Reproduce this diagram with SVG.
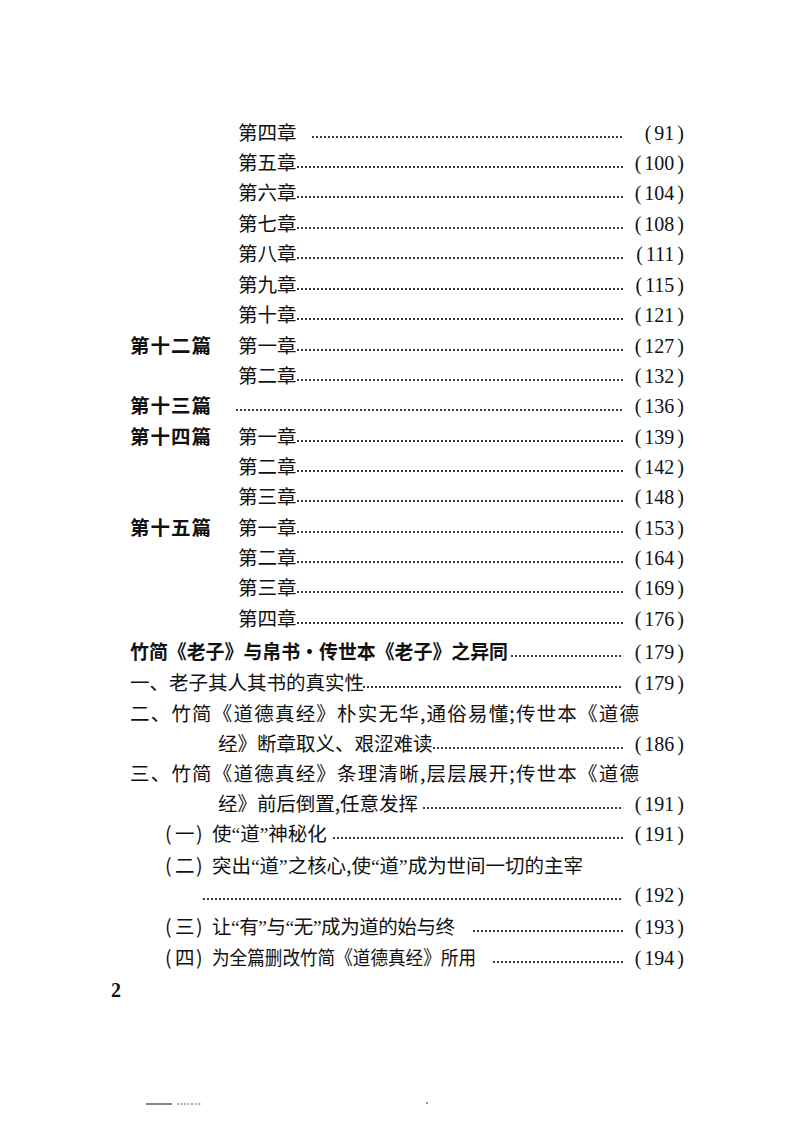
<svg xmlns="http://www.w3.org/2000/svg" width="793" height="1122" viewBox="0 0 793 1122">
<style>
.t{font-family:"Noto Sans CJK SC","Noto Sans CJK JP",sans-serif;font-size:19.5px;fill:#111}
.b{font-weight:bold}
.q{font-family:"Liberation Serif",serif}
.pg{font-family:"Liberation Serif",serif;font-size:20px;fill:#111;text-anchor:end}
.pn{font-family:"Liberation Serif",serif;font-size:20px;font-weight:bold;fill:#111}
.dots line{stroke:#111;stroke-width:2.2;stroke-linecap:round;stroke-dasharray:0 4}
</style>
<rect width="793" height="1122" fill="#fff"/>
<g id="leaders" class="dots">
<line x1="313" y1="137" x2="624" y2="137"/>
<line x1="298" y1="167" x2="624" y2="167"/>
<line x1="298" y1="197" x2="624" y2="197"/>
<line x1="298" y1="228" x2="624" y2="228"/>
<line x1="298" y1="258" x2="624" y2="258"/>
<line x1="298" y1="289" x2="624" y2="289"/>
<line x1="298" y1="319" x2="624" y2="319"/>
<line x1="298" y1="350" x2="624" y2="350"/>
<line x1="298" y1="380" x2="624" y2="380"/>
<line x1="237" y1="410" x2="624" y2="410"/>
<line x1="298" y1="441" x2="624" y2="441"/>
<line x1="298" y1="471" x2="624" y2="471"/>
<line x1="298" y1="501" x2="624" y2="501"/>
<line x1="298" y1="532" x2="624" y2="532"/>
<line x1="298" y1="562" x2="624" y2="562"/>
<line x1="298" y1="592" x2="624" y2="592"/>
<line x1="298" y1="623" x2="624" y2="623"/>
<line x1="512" y1="656" x2="624" y2="656"/>
<line x1="364" y1="687" x2="624" y2="687"/>
<line x1="434" y1="748" x2="624" y2="748"/>
<line x1="424" y1="808" x2="624" y2="808"/>
<line x1="334" y1="838" x2="624" y2="838"/>
<line x1="204" y1="899" x2="624" y2="899"/>
<line x1="474" y1="931" x2="624" y2="931"/>
<line x1="494" y1="962" x2="624" y2="962"/>
</g>
<g id="r1"><text class="t" x="238" y="140">第四章</text><text class="pg" x="684" y="140">(<tspan dx="3">91</tspan><tspan dx="3">)</tspan></text></g>
<g id="r2"><text class="t" x="238" y="170">第五章</text><text class="pg" x="684" y="170">(<tspan dx="3">100</tspan><tspan dx="3">)</tspan></text></g>
<g id="r3"><text class="t" x="238" y="200">第六章</text><text class="pg" x="684" y="200">(<tspan dx="3">104</tspan><tspan dx="3">)</tspan></text></g>
<g id="r4"><text class="t" x="238" y="231">第七章</text><text class="pg" x="684" y="231">(<tspan dx="3">108</tspan><tspan dx="3">)</tspan></text></g>
<g id="r5"><text class="t" x="238" y="261">第八章</text><text class="pg" x="684" y="261">(<tspan dx="3">111</tspan><tspan dx="3">)</tspan></text></g>
<g id="r6"><text class="t" x="238" y="292">第九章</text><text class="pg" x="684" y="292">(<tspan dx="3">115</tspan><tspan dx="3">)</tspan></text></g>
<g id="r7"><text class="t" x="238" y="322">第十章</text><text class="pg" x="684" y="322">(<tspan dx="3">121</tspan><tspan dx="3">)</tspan></text></g>
<g id="r8"><text class="t b" x="130" y="353" letter-spacing="1">第十二篇</text><text class="t" x="238" y="353">第一章</text><text class="pg" x="684" y="353">(<tspan dx="3">127</tspan><tspan dx="3">)</tspan></text></g>
<g id="r9"><text class="t" x="238" y="383">第二章</text><text class="pg" x="684" y="383">(<tspan dx="3">132</tspan><tspan dx="3">)</tspan></text></g>
<g id="r10"><text class="t b" x="130" y="413" letter-spacing="1">第十三篇</text><text class="pg" x="684" y="413">(<tspan dx="3">136</tspan><tspan dx="3">)</tspan></text></g>
<g id="r11"><text class="t b" x="130" y="444" letter-spacing="1">第十四篇</text><text class="t" x="238" y="444">第一章</text><text class="pg" x="684" y="444">(<tspan dx="3">139</tspan><tspan dx="3">)</tspan></text></g>
<g id="r12"><text class="t" x="238" y="474">第二章</text><text class="pg" x="684" y="474">(<tspan dx="3">142</tspan><tspan dx="3">)</tspan></text></g>
<g id="r13"><text class="t" x="238" y="504">第三章</text><text class="pg" x="684" y="504">(<tspan dx="3">148</tspan><tspan dx="3">)</tspan></text></g>
<g id="r14"><text class="t b" x="130" y="535" letter-spacing="1">第十五篇</text><text class="t" x="238" y="535">第一章</text><text class="pg" x="684" y="535">(<tspan dx="3">153</tspan><tspan dx="3">)</tspan></text></g>
<g id="r15"><text class="t" x="238" y="565">第二章</text><text class="pg" x="684" y="565">(<tspan dx="3">164</tspan><tspan dx="3">)</tspan></text></g>
<g id="r16"><text class="t" x="238" y="595">第三章</text><text class="pg" x="684" y="595">(<tspan dx="3">169</tspan><tspan dx="3">)</tspan></text></g>
<g id="r17"><text class="t" x="238" y="626">第四章</text><text class="pg" x="684" y="626">(<tspan dx="3">176</tspan><tspan dx="3">)</tspan></text></g>
<g id="r18"><text class="t b" x="130" y="659" textLength="378" lengthAdjust="spacingAndGlyphs">竹简《老子》与帛书·传世本《老子》之异同</text><text class="pg" x="684" y="659">(<tspan dx="3">179</tspan><tspan dx="3">)</tspan></text></g>
<g id="r19"><text class="t" x="130" y="690">一、老子其人其书的真实性</text><text class="pg" x="684" y="690">(<tspan dx="3">179</tspan><tspan dx="3">)</tspan></text></g>
<g id="r20"><text class="t" x="130" y="721" textLength="509" lengthAdjust="spacing">二、竹简《道德真经》朴实无华,通俗易懂;传世本《道德</text><text class="t" x="218" y="751">经》断章取义、艰涩难读</text><text class="pg" x="684" y="751">(<tspan dx="3">186</tspan><tspan dx="3">)</tspan></text></g>
<g id="r22"><text class="t" x="130" y="781" textLength="509" lengthAdjust="spacing">三、竹简《道德真经》条理清晰,层层展开;传世本《道德</text><text class="t" x="218" y="811" textLength="200" lengthAdjust="spacing">经》前后倒置,任意发挥</text><text class="pg" x="684" y="811">(<tspan dx="3">191</tspan><tspan dx="3">)</tspan></text></g>
<g id="r24"><text class="t" x="165" y="841">(<tspan x="175">一</tspan><tspan x="196">)</tspan></text><text class="t" x="212" y="841">使<tspan class="q">“</tspan>道<tspan class="q">”</tspan>神秘化</text><text class="pg" x="684" y="841">(<tspan dx="3">191</tspan><tspan dx="3">)</tspan></text></g>
<g id="r25"><text class="t" x="165" y="873">(<tspan x="175">二</tspan><tspan x="196">)</tspan></text><text class="t" x="212" y="873" textLength="371" lengthAdjust="spacing">突出<tspan class="q">“</tspan>道<tspan class="q">”</tspan>之核心,使<tspan class="q">“</tspan>道<tspan class="q">”</tspan>成为世间一切的主宰</text><text class="pg" x="684" y="902">(<tspan dx="3">192</tspan><tspan dx="3">)</tspan></text></g>
<g id="r27"><text class="t" x="165" y="934">(<tspan x="175">三</tspan><tspan x="196">)</tspan></text><text class="t" x="212" y="934" textLength="243" lengthAdjust="spacing">让<tspan class="q">“</tspan>有<tspan class="q">”</tspan>与<tspan class="q">“</tspan>无<tspan class="q">”</tspan>成为道的始与终</text><text class="pg" x="684" y="934">(<tspan dx="3">193</tspan><tspan dx="3">)</tspan></text></g>
<g id="r28"><text class="t" x="165" y="965">(<tspan x="175">四</tspan><tspan x="196">)</tspan></text><text class="t" x="212" y="965" textLength="264" lengthAdjust="spacingAndGlyphs">为全篇删改竹简《道德真经》所用</text><text class="pg" x="684" y="965">(<tspan dx="3">194</tspan><tspan dx="3">)</tspan></text></g>
<g id="folio"><text class="pn" x="111" y="997">2</text></g>
<g id="marks" stroke="#333" stroke-width="1.2"><line x1="146" y1="1104" x2="172" y2="1104"/><line x1="177" y1="1104" x2="202" y2="1104" stroke-dasharray="2 1.5" stroke="#666"/><line x1="426" y1="1103" x2="428" y2="1103"/></g>
</svg>
